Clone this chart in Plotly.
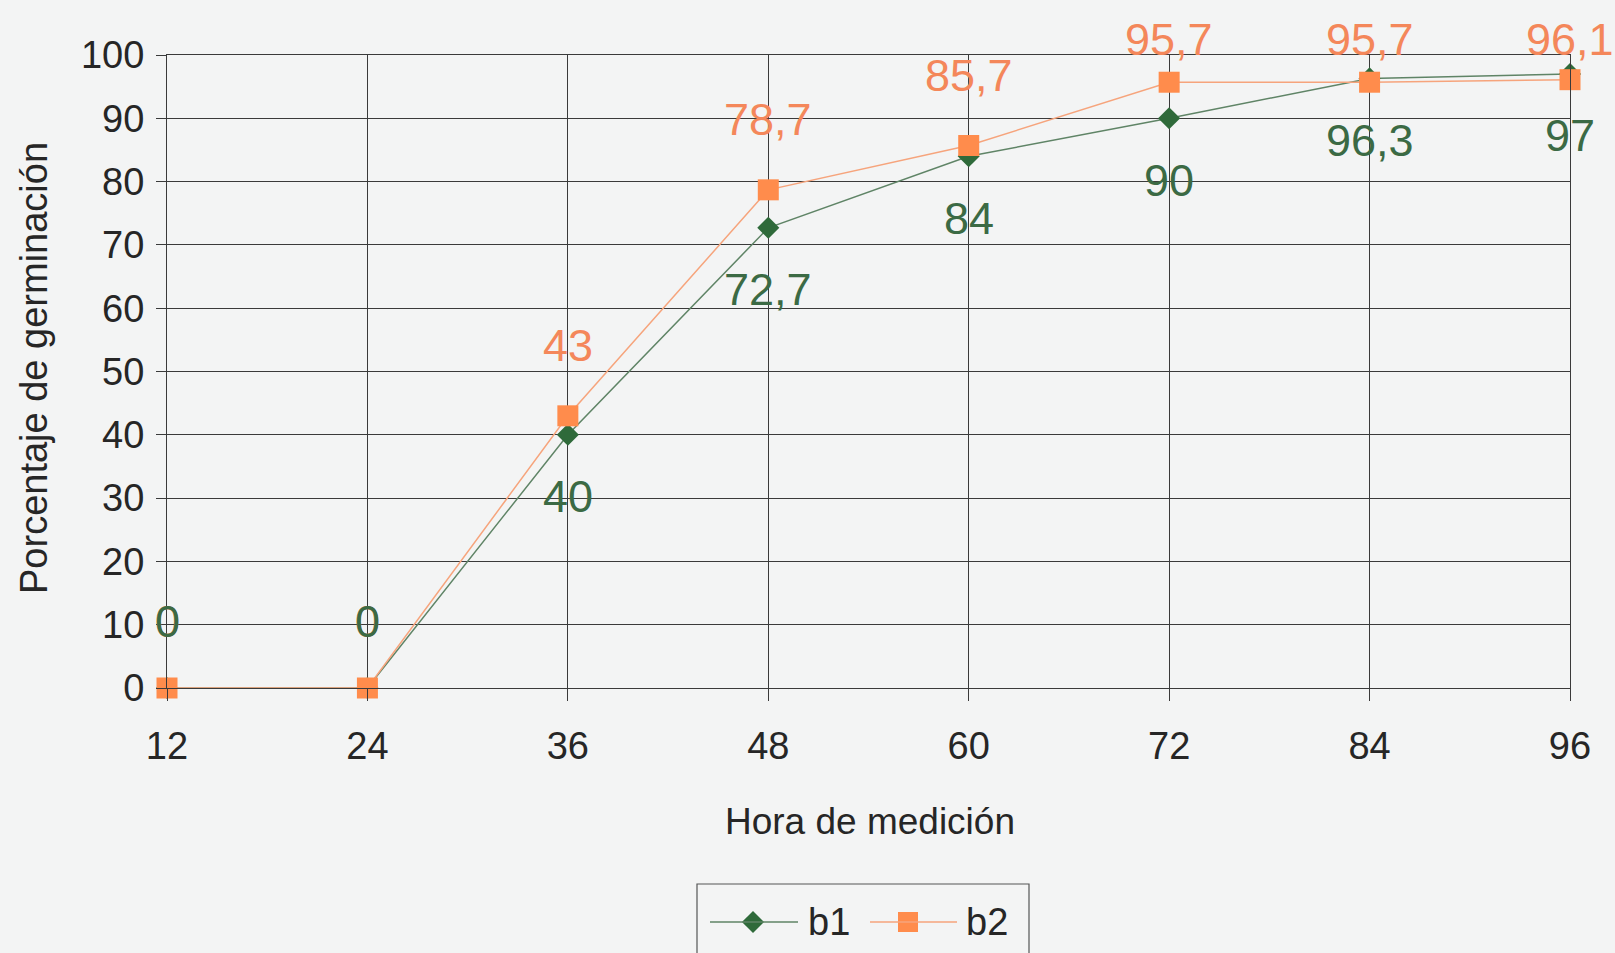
import plotly.graph_objects as go

# Germination percentage per measurement hour
horas = [12, 24, 36, 48, 60, 72, 84, 96]
b1 = [0, 0, 40, 72.7, 84, 90, 96.3, 97]
b2 = [0, 0, 43, 78.7, 85.7, 95.7, 95.7, 96.1]
y_ticks = [0, 10, 20, 30, 40, 50, 60, 70, 80, 90, 100]

W, H = 1615, 953
FONT = "Liberation Sans, Arial, sans-serif"
BG = "#f3f4f4"
GRID = "#3a3a3a"
GREEN_MK = "#2f6a3a"
GREEN_LN = "#5f8466"
GREEN_TX = "#3b6a44"
ORANGE_MK = "#ff8c4c"
ORANGE_LN = "#f6a47c"
ORANGE_TX = "#f4875a"

# plot area in pixels (figure has no margins, axes placed by domain)
PX_L, PX_R, PX_T, PX_B = 167, 1570, 55, 688
px_per_unit = (PX_B - PX_T) / 100.0


def fmt(v):
    return (f"{v:g}").replace(".", ",")


fig = go.Figure()

fig.add_trace(go.Scatter(
    x=horas, y=b1, name="b1", mode="lines+markers",
    line=dict(color=GREEN_LN, width=1.5),
    marker=dict(symbol="diamond", size=17, color=GREEN_MK),
    cliponaxis=False, showlegend=False,
))
fig.add_trace(go.Scatter(
    x=horas, y=b2, name="b2", mode="lines+markers",
    line=dict(color=ORANGE_LN, width=1.5),
    marker=dict(symbol="square", size=21, color=ORANGE_MK),
    cliponaxis=False, showlegend=False,
))

annotations = []
# b2 labels above the points, held inside the top of the chart
for h, v in zip(horas, b2):
    py = PX_B - v * px_per_unit
    shift = -70 if v > 0 else -67
    shift = max(shift, 39 - py)
    annotations.append(dict(
        x=h, y=v, xref="x", yref="y", text=fmt(v), showarrow=False,
        yshift=-shift, font=dict(family=FONT, size=45, color=ORANGE_TX),
        xanchor="center", yanchor="middle",
    ))
# b1 labels below the points (zeros sit above the axis)
for h, v in zip(horas, b1):
    shift = 62 if v > 0 else -67
    annotations.append(dict(
        x=h, y=v, xref="x", yref="y", text=fmt(v), showarrow=False,
        yshift=-shift, font=dict(family=FONT, size=45, color=GREEN_TX),
        xanchor="center", yanchor="middle",
    ))

# axis titles
annotations.append(dict(
    x=34, y=368, xref="x2", yref="y2", text="Porcentaje de germinación",
    textangle=-90, showarrow=False,
    font=dict(family=FONT, size=38, color="#262626"),
))
annotations.append(dict(
    x=870, y=821, xref="x2", yref="y2", text="Hora de medición",
    showarrow=False, font=dict(family=FONT, size=37, color="#262626"),
))

# legend box, lines and labels
LEG_Y = 922
shapes = [
    dict(type="rect", xref="x2", yref="y2", x0=697, x1=1029, y0=884, y1=1010,
         line=dict(color="#555555", width=1.2), fillcolor="rgba(0,0,0,0)"),
    dict(type="line", xref="x2", yref="y2", x0=710, x1=798, y0=LEG_Y, y1=LEG_Y,
         line=dict(color=GREEN_LN, width=1.5)),
    dict(type="line", xref="x2", yref="y2", x0=870, x1=957, y0=LEG_Y, y1=LEG_Y,
         line=dict(color=ORANGE_LN, width=1.5)),
]
for label, x0 in (("b1", 806), ("b2", 964)):
    annotations.append(dict(
        x=x0, y=LEG_Y, xref="x2", yref="y2", text=label, showarrow=False,
        xanchor="left", yanchor="middle",
        font=dict(family=FONT, size=38, color="#262626"),
    ))

fig.add_trace(go.Scatter(
    x=[753], y=[LEG_Y], xaxis="x2", yaxis="y2", mode="markers",
    marker=dict(symbol="diamond", size=17, color=GREEN_MK),
    showlegend=False, hoverinfo="skip",
))
fig.add_trace(go.Scatter(
    x=[908], y=[LEG_Y], xaxis="x2", yaxis="y2", mode="markers",
    marker=dict(symbol="square", size=20, color=ORANGE_MK),
    showlegend=False, hoverinfo="skip",
))

fig.update_layout(
    width=W, height=H,
    margin=dict(l=0, r=0, t=0, b=0, autoexpand=False),
    paper_bgcolor=BG, plot_bgcolor="rgba(0,0,0,0)",
    showlegend=False,
    font=dict(family=FONT, color="#262626"),
    xaxis=dict(
        domain=[PX_L / W, PX_R / W],
        range=[horas[0], horas[-1]],
        tickmode="array", tickvals=horas, ticktext=[str(h) for h in horas],
        tickfont=dict(family=FONT, size=38, color="#262626"),
        ticks="outside", ticklen=12, tickcolor=GRID, tickwidth=1.2,
        ticklabelstandoff=12, automargin=False,
        showgrid=True, gridcolor=GRID, gridwidth=1.2,
        showline=True, linecolor=GRID, linewidth=1.2, mirror=True,
        zeroline=False,
    ),
    yaxis=dict(
        domain=[1 - PX_B / H, 1 - PX_T / H],
        range=[0, 100],
        tickmode="array", tickvals=y_ticks, ticktext=[str(t) for t in y_ticks],
        tickfont=dict(family=FONT, size=38, color="#262626"),
        ticks="outside", ticklen=10, tickcolor=GRID, tickwidth=1.2,
        ticklabelstandoff=4, automargin=False,
        showgrid=True, gridcolor=GRID, gridwidth=1.2,
        showline=True, linecolor=GRID, linewidth=1.2, mirror=True,
        zeroline=False,
    ),
    xaxis2=dict(domain=[0, 1], range=[0, W], visible=False, fixedrange=True,
                anchor="y2", automargin=False),
    yaxis2=dict(domain=[0, 1], range=[H, 0], visible=False, fixedrange=True,
                anchor="x2", automargin=False),
    annotations=annotations,
    shapes=shapes,
)

fig.write_html("out.html")
